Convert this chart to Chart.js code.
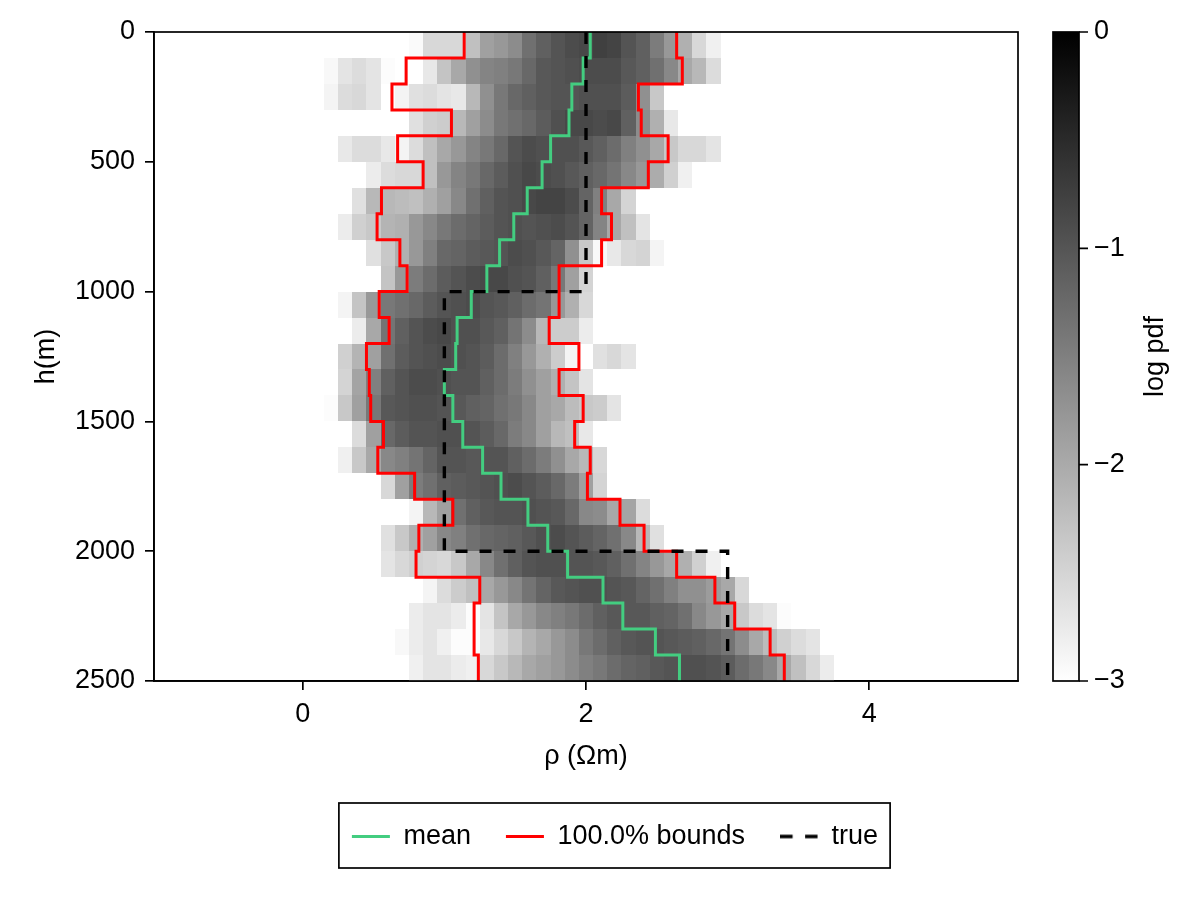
<!DOCTYPE html>
<html>
<head>
<meta charset="utf-8">
<script src="https://cdn.jsdelivr.net/npm/chart.js@4.4.1/dist/chart.umd.min.js"></script>
<style>
  html, body { margin: 0; padding: 0; background: #fff; }
  #wrap { width: 1200px; height: 900px; }
</style>
</head>
<body>
<div id="wrap"><canvas id="chart" width="1200" height="900"></canvas></div>
<script>
// layer tops (m), one value per 100 m layer plus the bottom
var layerTops = [0, 100, 200, 300, 400, 500, 600, 700, 800, 900, 1000, 1100, 1200,
                 1300, 1400, 1500, 1600, 1700, 1800, 1900, 2000, 2100, 2200, 2300, 2400, 2500];

var meanRho  = [2.03, 1.98, 1.90, 1.88, 1.75, 1.69, 1.585, 1.49, 1.39, 1.30, 1.19, 1.09, 1.08,
                1.00, 1.06, 1.13, 1.27, 1.40, 1.59, 1.73, 1.87, 2.12, 2.26, 2.49, 2.66];
var lowerRho = [1.14, 0.73, 0.63, 1.05, 0.67, 0.85, 0.556, 0.525, 0.686, 0.737, 0.54, 0.61, 0.45,
                0.47, 0.48, 0.57, 0.53, 0.79, 1.06, 0.82, 0.80, 1.25, 1.21, 1.21, 1.24];
var upperRho = [2.64, 2.68, 2.37, 2.39, 2.58, 2.44, 2.11, 2.18, 2.11, 1.81, 1.81, 1.74, 1.95,
                1.81, 1.98, 1.92, 2.03, 2.01, 2.24, 2.41, 2.64, 2.91, 3.05, 3.30, 3.40];

var trueTops = [0, 1000, 2000, 2500];
var trueRho  = [2, 1, 3];

var xTicks  = [0, 2, 4];
var yTicks  = [0, 500, 1000, 1500, 2000, 2500];
var cbTicks = [-3, -2, -1, 0];

// heatmap: rho bin centres, first bin of each layer, log pdf per bin (null = empty)
var rhoBins = [0.2, 0.3, 0.4, 0.5, 0.6, 0.7, 0.8, 0.9, 1.0, 1.1, 1.2, 1.3, 1.4, 1.5, 1.6, 1.7, 1.8, 1.9,
               2.0, 2.1, 2.2, 2.3, 2.4, 2.5, 2.6, 2.7, 2.8, 2.9, 3.0, 3.1, 3.2, 3.3, 3.4, 3.5, 3.6, 3.7];
var heatFirstBin = [6, 0, 0, 6, 1, 3, 2, 1, 3, 4, 1, 2, 1, 1, 0, 2, 1, 4, 6, 4, 4, 7, 6, 5, 6];
var heatLogPdf = [
  [-2.94,-2.54,-2.54,-2.54,-2.26,-1.88,-1.79,-1.65,-1.32,-1.13,-0.99,-0.89,-0.85,-0.75,-0.80,-0.99,-1.13,-1.46,-1.79,-2.07,-2.54,-2.82],
  [-2.92,-2.68,-2.59,-2.68,-2.96,null,null,-2.73,-2.31,-1.98,-1.69,-1.55,-1.51,-1.41,-1.22,-1.04,-0.99,-0.94,-0.89,-0.89,-0.89,-1.04,-1.13,-1.32,-1.60,-1.98,-2.16,-2.59],
  [-2.87,-2.59,-2.54,-2.68,null,-2.87,-2.64,-2.59,-2.68,-2.73,-2.16,-1.69,-1.41,-1.22,-1.13,-1.04,-0.99,-0.99,-0.94,-0.94,-0.94,-1.08,-1.69,-2.35],
  [-2.64,-2.45,-2.40,-2.16,-1.88,-1.65,-1.41,-1.32,-1.22,-1.08,-0.94,-0.85,-0.85,-0.89,-0.85,-1.13,-1.65,-2.07,-2.73],
  [-2.73,-2.59,-2.59,-2.73,-2.87,-2.59,-2.26,-1.98,-1.79,-1.55,-1.41,-1.22,-0.99,-0.89,-0.94,-0.94,-0.94,-1.04,-1.13,-1.27,-1.51,-1.69,-1.98,-2.35,-2.54,-2.54,-2.68],
  [-2.78,-2.59,-2.54,-2.54,-2.26,-1.79,-1.55,-1.41,-1.22,-1.08,-0.94,-0.85,-0.89,-0.94,-1.04,-1.13,-1.22,-1.36,-1.60,-1.79,-2.02,-2.45,-2.82],
  [-2.64,-2.16,-2.16,-2.21,-2.26,-2.07,-1.88,-1.60,-1.32,-1.13,-0.99,-0.94,-0.85,-0.80,-0.80,-0.89,-1.18,-1.51,-1.98,-2.49],
  [-2.78,-2.45,-2.35,-2.12,-2.07,-1.79,-1.60,-1.41,-1.27,-1.18,-1.08,-0.99,-0.94,-0.99,-0.94,-0.89,-0.99,-1.18,-1.55,-1.98,-2.26,-2.68],
  [-2.64,-2.35,-2.07,-1.79,-1.51,-1.22,-1.18,-1.08,-1.04,-0.99,-0.89,-0.94,-1.04,-1.18,-1.69,-2.35,-2.92,-2.73,-2.54,-2.49,-2.87],
  [-2.31,-1.79,-1.46,-1.27,-1.08,-0.99,-0.89,-0.85,-0.85,-0.94,-0.99,-1.13,-1.41,-1.88,-2.49],
  [-2.87,-2.31,-1.79,-1.41,-1.32,-1.22,-1.08,-0.99,-0.94,-0.89,-0.99,-1.04,-1.13,-1.27,-1.36,-1.79,-2.07,-2.54],
  [-2.78,-1.98,-1.36,-1.13,-0.99,-0.89,-0.85,-0.94,-0.94,-1.04,-1.13,-1.36,-1.65,-2.16,-2.40,-2.40,-2.78],
  [-2.45,-2.12,-1.88,-1.32,-1.08,-0.99,-0.94,-0.89,-0.94,-0.99,-1.08,-1.27,-1.51,-1.79,-2.07,-2.40,-2.87,null,-2.64,-2.54,-2.68],
  [-2.49,-1.93,-1.51,-1.13,-0.99,-0.89,-0.89,-0.94,-0.99,-0.99,-1.13,-1.27,-1.46,-1.69,-1.88,-2.07,-2.31,-2.68],
  [-2.96,-2.35,-1.88,-1.41,-1.04,-0.99,-0.94,-0.94,-0.99,-1.04,-1.13,-1.18,-1.32,-1.41,-1.60,-1.88,-1.98,-2.21,-2.35,-2.40,-2.68],
  [-2.59,-1.88,-1.22,-1.08,-0.99,-0.99,-0.94,-0.94,-0.99,-1.08,-1.22,-1.46,-1.60,-1.88,-2.16,-2.26,-2.73],
  [-2.82,-2.35,-1.98,-1.60,-1.51,-1.36,-1.18,-0.99,-0.99,-1.04,-0.99,-0.99,-1.13,-1.27,-1.46,-1.69,-1.98,-2.16,-2.54],
  [-2.54,-1.88,-1.46,-1.32,-1.13,-1.08,-1.04,-0.99,-0.94,-0.89,-0.99,-1.08,-1.22,-1.46,-1.88,-2.49],
  [-2.87,-2.16,-1.88,-1.32,-1.13,-1.04,-0.99,-0.99,-0.94,-0.99,-1.04,-1.22,-1.60,-1.65,-1.98,-1.93,-2.59],
  [-2.64,-2.35,-2.07,-1.88,-1.60,-1.51,-1.32,-1.22,-1.18,-1.13,-1.04,-0.94,-0.89,-0.99,-1.08,-1.18,-1.32,-1.60,-2.16,-2.64],
  [-2.68,-2.54,-2.45,-2.49,-2.54,-2.35,-1.98,-1.60,-1.32,-1.13,-0.99,-0.94,-0.94,-0.99,-0.99,-1.04,-1.13,-1.32,-1.55,-1.79,-1.98,-2.07,-2.45,-2.82],
  [-2.87,-2.59,-2.40,-2.26,-1.98,-1.79,-1.60,-1.36,-1.18,-1.04,-0.99,-0.94,-0.94,-0.99,-1.04,-1.18,-1.32,-1.51,-1.69,-1.69,-1.84,-1.98,-2.54],
  [-2.78,-2.68,-2.68,-2.78,-2.96,-2.68,-2.31,-1.98,-1.79,-1.60,-1.51,-1.41,-1.27,-1.13,-1.04,-1.04,-1.04,-1.13,-1.18,-1.32,-1.60,-1.79,-1.98,-2.35,-2.59,-2.68,-2.96],
  [-2.92,-2.78,-2.68,-2.82,-2.96,-2.96,-2.73,-2.54,-2.35,-2.12,-1.98,-1.79,-1.65,-1.41,-1.27,-1.13,-1.04,-0.99,-0.99,-1.04,-1.08,-1.13,-1.22,-1.36,-1.65,-1.98,-2.21,-2.45,-2.59,-2.68],
  [-2.82,-2.68,-2.68,-2.78,-2.82,-2.54,-2.35,-2.16,-1.98,-1.88,-1.79,-1.65,-1.51,-1.41,-1.27,-1.18,-1.13,-1.04,-0.99,-0.94,-0.94,-0.99,-1.08,-1.27,-1.41,-1.60,-1.98,-2.26,-2.54,-2.78]
];

var cbMin = -3, cbMax = 0;
var binHalf = 0.05;
var FONT = 'Liberation Sans';
var trueDash = [12, 12];

function grayFor(v) {
  var t = (cbMax - v) / (cbMax - cbMin);
  t = Math.max(0, Math.min(1, t));
  var g = Math.round(255 * t);
  return 'rgb(' + g + ',' + g + ',' + g + ')';
}

// vertical step profile: each layer value held from its top to the next top
function stepPoints(tops, vals) {
  var pts = [];
  for (var i = 0; i < vals.length; i++) {
    pts.push({ x: vals[i], y: tops[i] });
    pts.push({ x: vals[i], y: tops[i + 1] });
  }
  return pts;
}

// small dashed swatch for the legend entry of the true model
var dashSwatch = document.createElement('canvas');
dashSwatch.width = 38;
dashSwatch.height = 8;
(function() {
  var c = dashSwatch.getContext('2d');
  c.strokeStyle = '#000';
  c.lineWidth = 3.4;
  c.setLineDash([12.5, 12.5]);
  c.beginPath();
  c.moveTo(0, 4);
  c.lineTo(38, 4);
  c.stroke();
})();

var heatmapPlugin = {
  id: 'heatmap',
  beforeDatasetsDraw: function(chart) {
    var ctx = chart.ctx, xs = chart.scales.x, ys = chart.scales.y;
    ctx.save();
    for (var r = 0; r < heatLogPdf.length; r++) {
      var y0 = Math.round(ys.getPixelForValue(layerTops[r]));
      var y1 = Math.round(ys.getPixelForValue(layerTops[r + 1]));
      var row = heatLogPdf[r];
      for (var c = 0; c < row.length; c++) {
        if (row[c] === null) continue;
        var rho = rhoBins[heatFirstBin[r] + c];
        var x0 = Math.round(xs.getPixelForValue(rho - binHalf));
        var x1 = Math.round(xs.getPixelForValue(rho + binHalf));
        ctx.fillStyle = grayFor(row[c]);
        ctx.fillRect(x0, y0, x1 - x0, y1 - y0);
      }
    }
    ctx.restore();
  },
  afterDraw: function(chart) {
    var ctx = chart.ctx, a = chart.chartArea, cb = chart.scales.cb;
    ctx.save();
    // plot frame
    ctx.strokeStyle = '#000';
    ctx.lineWidth = 1.7;
    ctx.strokeRect(a.left, a.top, a.right - a.left, a.bottom - a.top);

    // colorbar
    var bx0 = a.right + 35, bx1 = a.right + 61;
    var top = cb.getPixelForValue(cbMax), bot = cb.getPixelForValue(cbMin);
    var grad = ctx.createLinearGradient(0, bot, 0, top);
    grad.addColorStop(0, grayFor(cbMin));
    grad.addColorStop(1, grayFor(cbMax));
    ctx.fillStyle = grad;
    ctx.fillRect(bx0, top, bx1 - bx0, bot - top);
    ctx.strokeRect(bx0, top, bx1 - bx0, bot - top);
    ctx.beginPath();
    cbTicks.forEach(function(v) {
      var py = cb.getPixelForValue(v);
      ctx.moveTo(bx1, py);
      ctx.lineTo(bx1 + 9, py);
    });
    ctx.stroke();

    ctx.fillStyle = '#000';
    ctx.font = '27px "' + FONT + '"';
    ctx.textAlign = 'center';
    ctx.textBaseline = 'middle';
    ctx.translate(1156, (top + bot) / 2);
    ctx.rotate(-Math.PI / 2);
    ctx.fillText('log pdf', 0, 0);
    ctx.setTransform(1, 0, 0, 1, 0, 0);

    // legend frame
    var hb = chart.legend.legendHitBoxes;
    if (hb && hb.length) {
      var last = hb[hb.length - 1];
      var l = hb[0].left - 13, r = last.left + last.width + 12;
      var t = hb[0].top - 20, b = hb[0].top + hb[0].height + 18;
      ctx.lineWidth = 1.7;
      ctx.strokeStyle = '#000';
      ctx.strokeRect(l, t, r - l, b - t);
    }
    ctx.restore();
  }
};

Chart.defaults.font.family = FONT;
Chart.defaults.font.size = 27;
Chart.defaults.color = '#000';

var ctx = document.getElementById('chart').getContext('2d');
var chart = new Chart(ctx, {
  type: 'scatter',
  data: {
    datasets: [
      {
        label: 'mean',
        data: stepPoints(layerTops, meanRho),
        showLine: true, borderColor: '#43cd80', backgroundColor: '#43cd80', pointStyle: 'line',
        borderWidth: 3, pointRadius: 0, borderJoinStyle: 'miter', order: 3
      },
      {
        label: '100.0% bounds',
        data: stepPoints(layerTops, lowerRho),
        showLine: true, borderColor: '#ff0000', backgroundColor: '#ff0000', pointStyle: 'line',
        borderWidth: 3, pointRadius: 0, borderJoinStyle: 'miter', order: 2
      },
      {
        label: '',
        data: stepPoints(layerTops, upperRho),
        showLine: true, borderColor: '#ff0000', backgroundColor: '#ff0000', pointStyle: 'line',
        borderWidth: 3, pointRadius: 0, borderJoinStyle: 'miter', order: 2
      },
      {
        label: 'true',
        data: stepPoints(trueTops, trueRho),
        showLine: true, borderColor: '#000', backgroundColor: '#000', pointStyle: dashSwatch,
        borderWidth: 3.4, borderDash: trueDash, pointRadius: 0, borderJoinStyle: 'miter', order: 1
      }
    ]
  },
  options: {
    responsive: false,
    animation: false,
    devicePixelRatio: 1,
    layout: { padding: { top: 32, left: 30, right: 0, bottom: 40 } },
    plugins: {
      tooltip: { enabled: false },
      legend: {
        position: 'bottom',
        labels: {
          usePointStyle: true,
          pointStyleWidth: 38,
          padding: 35,
          color: '#000',
          font: { size: 27, family: FONT },
          filter: function(item) { return item.text !== ''; },
          sort: function(a, b) { return a.datasetIndex - b.datasetIndex; }
        }
      }
    },
    scales: {
      x: {
        type: 'linear',
        min: -1.05, max: 5.05,
        afterBuildTicks: function(s) { s.ticks = xTicks.map(function(v) { return { value: v }; }); },
        afterFit: function(s) { s.height = 107; },
        grid: { drawOnChartArea: false, color: '#000', lineWidth: 1.7, tickLength: 9 },
        border: { color: '#000', width: 1.7 },
        ticks: { padding: 8, color: '#000', callback: function(v) { return String(v); } },
        title: { display: true, text: 'ρ (Ωm)', color: '#000', padding: { top: 0, bottom: 15 } }
      },
      y: {
        type: 'linear',
        position: 'left',
        reverse: true,
        min: 0, max: 2500,
        afterBuildTicks: function(s) { s.ticks = yTicks.map(function(v) { return { value: v }; }); },
        afterFit: function(s) { s.width = 124; },
        grid: { drawOnChartArea: false, color: '#000', lineWidth: 1.7, tickLength: 9 },
        border: { color: '#000', width: 1.7 },
        ticks: { padding: 10, color: '#000', callback: function(v) { return String(v); } },
        title: { display: true, text: 'h(m)', color: '#000', padding: { top: 0, bottom: 0 } }
      },
      cb: {
        type: 'linear',
        position: 'right',
        min: cbMin, max: cbMax,
        afterBuildTicks: function(s) { s.ticks = cbTicks.map(function(v) { return { value: v }; }); },
        afterFit: function(s) { s.width = 182; },
        grid: { display: false, drawTicks: true, tickLength: 76, drawOnChartArea: false },
        border: { display: false },
        ticks: { padding: 0, color: '#000', callback: function(v) { return v < 0 ? '\u2212' + Math.abs(v) : String(v); } }
      }
    }
  },
  plugins: [heatmapPlugin]
});
</script>
</body>
</html>
